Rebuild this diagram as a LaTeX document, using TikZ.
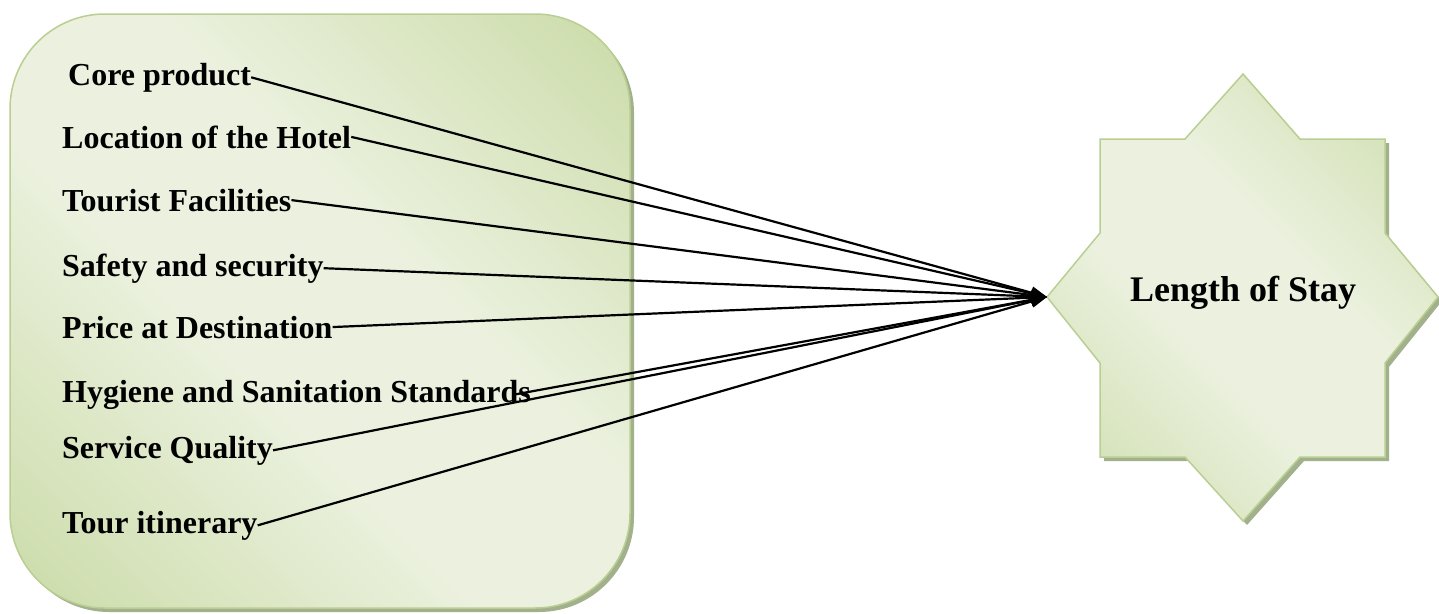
\documentclass[tikz,border=0pt]{standalone}
\usepackage{fontspec}
\setmainfont{Liberation Serif}
\usetikzlibrary{arrows.meta, positioning}
\definecolor{verdeosc}{HTML}{C3D69B}
\definecolor{verdecla}{HTML}{EBF1DE}
\definecolor{borde}{HTML}{B9CF92}
\definecolor{sombra}{HTML}{A3B08C}
\pgfdeclareverticalshading{degradado}{100bp}{color(0bp)=(verdeosc); color(8bp)=(verdeosc);
  color(42bp)=(verdecla); color(58bp)=(verdecla); color(92bp)=(verdeosc); color(100bp)=(verdeosc)}

\begin{document}
\begin{tikzpicture}[x=1pt, y=-1pt,
      factor/.style={anchor=base west, inner sep=0pt,
                     font=\bfseries\fontsize{32}{38}\selectfont},
      relleno/.style={draw=borde, line width=1.5pt, shading=degradado, shading angle=-45},
      flecha/.style={-{Triangle[length=16pt,width=12pt]}, line width=2.2pt}]
    \useasboundingbox (0,0) rectangle (1439,613);
    % caja de factores
    \fill[sombra, rounded corners=95pt] (14,18) rectangle (634,612);
    \path[relleno, rounded corners=95pt] (10,14) rectangle (630,608);
    % estrella
    \fill[sombra, shift={(4,4)}] (1243,74) -- (1300,139) -- (1385,139) -- (1385,233)
      -- (1438,297) -- (1385,363) -- (1385,457) -- (1300,457) -- (1243,521)
      -- (1185,457) -- (1100,457) -- (1100,363) -- (1047,297) -- (1100,233)
      -- (1100,139) -- (1185,139) -- cycle;
    \path[relleno] (1243,74) -- (1300,139) -- (1385,139) -- (1385,233)
      -- (1438,297) -- (1385,363) -- (1385,457) -- (1300,457) -- (1243,521)
      -- (1185,457) -- (1100,457) -- (1100,363) -- (1047,297) -- (1100,233)
      -- (1100,139) -- (1185,139) -- cycle;
    \coordinate (punta) at (1047,297);
    \node[anchor=base, inner sep=0pt, font=\bfseries\fontsize{36}{42}\selectfont]
      (estancia) at (1243,301) {Length of Stay};
    % factores
    \node[factor] (core) at (68,85) {Core product};
    \node[factor] (location) at (62,148) {Location of the Hotel};
    \node[factor] (facilities) at (62,211) {Tourist Facilities};
    \node[factor] (safety) at (62,276) {Safety and security};
    \node[factor] (price) at (62,338) {Price at Destination};
    \node[factor] (hygiene) at (62,402) {Hygiene and Sanitation Standards};
    \node[factor] (service) at (62,458) {Service Quality};
    \node[factor] (tour) at (62,533) {Tour itinerary};
    \foreach \f in {core,location,facilities,safety,price,service,tour}
      \draw[flecha] (\f.east) -- (punta);
    \draw[flecha] ([xshift=-16pt]hygiene.east) -- (punta);
  \end{tikzpicture}
\end{document}
